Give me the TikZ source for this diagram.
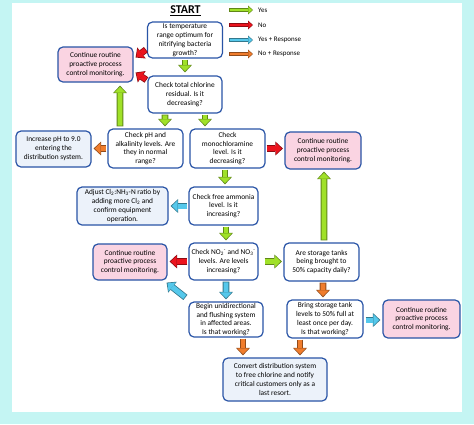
\documentclass[tikz,border=0pt]{standalone}
\usepackage{fontspec}
\setmainfont{Carlito}
\usetikzlibrary{arrows.meta,calc}
\definecolor{bg}{RGB}{196,245,243}
\definecolor{bdr}{RGB}{41,84,166}
\definecolor{pinkf}{RGB}{250,212,226}
\definecolor{actf}{RGB}{236,242,250}
\definecolor{agreen}{RGB}{160,225,40}
\definecolor{ared}{RGB}{235,20,30}
\definecolor{ablue}{RGB}{85,200,235}
\definecolor{aorange}{RGB}{240,125,45}
\tikzset{
  box/.style={draw=bdr, line width=1.2pt, rounded corners=5pt, fill=white,
    align=center, inner sep=1pt, font=\fontsize{7.4}{8.9}\selectfont},
  pinkbox/.style={box, fill=pinkf},
  actbox/.style={box, fill=actf},
  sz/.style 2 args={minimum width=#1bp, minimum height=#2bp},
  legtext/.style={anchor=west, inner sep=0pt, font=\fontsize{7}{8}\selectfont},
}
\newcommand\blockarrow[3]{%
  \draw[line width=6.6pt,#1!60!black,-{Triangle[width=14pt,length=7.5pt,line width=0pt]}] (#2) -- (#3);
  \draw[line width=5pt,#1,shorten <=0.8pt,shorten >=1.2pt,-{Triangle[width=11.5pt,length=5.8pt,line width=0pt]}] (#2) -- (#3);}
\newcommand\legarrow[3]{%
  \draw[line width=4pt,#1!60!black,-{Triangle[width=9pt,length=5pt,line width=0pt]}] (#2) -- (#3);
  \draw[line width=2.8pt,#1,shorten <=0.6pt,shorten >=0.9pt,-{Triangle[width=7pt,length=3.8pt,line width=0pt]}] (#2) -- (#3);}
\newcommand\pinktext{Continue routine\\proactive process\\control monitoring.}
\begin{document}
\begin{tikzpicture}[x=1bp,y=-1bp]
\useasboundingbox (0,0) rectangle (474,424);
\fill[bg] (0,0) rectangle (474,424);
\fill[white] (12,3) rectangle (462,412);

\node[font=\bfseries\fontsize{12}{13}\selectfont, inner sep=0pt] (start) at (185.5,11) {\underline{START}};

% legend
\coordinate (lg1) at (229,10);
\coordinate (lg2) at (229,25);
\coordinate (lg3) at (229,40);
\coordinate (lg4) at (229,54);
\node[legtext] (ly1) at (258,10) {Yes};
\node[legtext] (ly2) at (258,25) {No};
\node[legtext] (ly3) at (258,40) {Yes + Response};
\node[legtext] (ly4) at (258,54) {No + Response};
\legarrow{agreen}{lg1}{$(ly1.west)+(-5,0)$}
\legarrow{ared}{lg2}{$(ly2.west)+(-5,0)$}
\legarrow{ablue}{lg3}{$(ly3.west)+(-5,0)$}
\legarrow{aorange}{lg4}{$(ly4.west)+(-5,0)$}

% boxes
\node[box, sz={75}{36}] (q1) at (185,40) {Is temperature\\range optimum for\\nitrifying bacteria\\growth?};
\node[pinkbox, sz={75}{35}] (pA) at (95.5,64.5) {\pinktext};
\node[box, sz={74}{37}] (q2) at (185,94.5) {Check total chlorine\\residual. Is it\\decreasing?};
\node[box, sz={75}{39}] (q3) at (145.5,148.5) {Check pH and\\alkalinity levels. Are\\they in normal\\range?};
\node[box, sz={75}{39}] (q4) at (227.5,148.5) {Check\\monochloramine\\level. Is it\\decreasing?};
\node[actbox, sz={75}{36}] (a5) at (53.5,149) {Increase pH to 9.0\\entering the\\distribution system.};
\node[pinkbox, sz={76}{37}] (pB) at (323,150.5) {\pinktext};
\node[box, sz={69}{38}] (q6) at (223.5,206) {Check free ammonia\\level. Is it\\increasing?};
\node[actbox, sz={91}{38}] (a7) at (122.5,206) {Adjust Cl\textsubscript{2}:NH\textsubscript{3}-N ratio by\\adding more Cl\textsubscript{2} and\\confirm equipment\\operation.};
\node[box, sz={69}{37}] (q8) at (223.5,261.5) {Check NO\textsubscript{2}\textsuperscript{-} and NO\textsubscript{3}\textsuperscript{-}\\levels. Are levels\\increasing?};
\node[pinkbox, sz={74}{36}] (pC) at (130,262) {\pinktext};
\node[box, sz={75}{38}] (q9) at (321.5,262) {Are storage tanks\\being brought to\\50\% capacity daily?};
\node[box, sz={74}{35}] (q10) at (226,319.5) {Begin unidirectional\\and flushing system\\in affected areas.\\Is that working?};
\node[box, sz={76}{38}] (q11) at (325,319) {Bring storage tank\\levels to 50\% full at\\least once per day.\\Is that working?};
\node[pinkbox, sz={77}{38}] (pD) at (421.5,319) {\pinktext};
\node[actbox, sz={104}{43}] (a12) at (275,379.5) {Convert distribution system\\to free chlorine and notify\\critical customers only as a\\last resort.};

% arrows
\blockarrow{agreen}{$(q1.south)+(0,1)$}{$(q2.north)+(0,-3)$}
\blockarrow{ared}{$(q1.south west)+(-1,-9)$}{$(pA.east)+(2,-7)$}
\blockarrow{ared}{$(q2.west)+(-1,-14.5)$}{$(pA.east)+(2,8)$}
\blockarrow{agreen}{$(q2.south)+(-20,1)$}{$(q3.north)+(19.5,-2)$}
\blockarrow{agreen}{$(q2.south)+(20,1)$}{$(q4.north)+(-22.5,-2)$}
\blockarrow{agreen}{$(q3.north)+(-25.5,-2)$}{$(pA.south)+(24.5,3)$}
\blockarrow{aorange}{$(q3.west)+(-1,0)$}{$(q3.west -| a5.east)+(2,0)$}
\blockarrow{ared}{$(q4.east)+(1,0)$}{$(q4.east -| pB.west)+(-1.5,0)$}
\blockarrow{agreen}{$(q6.north |- q4.south)+(1.5,1)$}{$(q6.north)+(1.5,-2)$}
\blockarrow{ablue}{$(q6.west)+(-1,0)$}{$(a7.east)+(2,0)$}
\blockarrow{agreen}{$(q6.south)+(2.5,1)$}{$(q8.north)+(2.5,-2)$}
\blockarrow{ared}{$(q8.west)+(-1,0)$}{$(q8.west -| pC.east)+(2,0)$}
\blockarrow{agreen}{$(q8.east)+(6,0)$}{$(q8.east -| q9.west)+(-1.5,0)$}
\blockarrow{agreen}{$(q9.north)+(2.5,-2)$}{$(pB.south)+(1,2)$}
\blockarrow{ablue}{$(q8.south)+(2.5,1)$}{$(q10.north)+(0,-2)$}
\blockarrow{ablue}{$(q10.north west)+(-3,-4)$}{$(pC.south east)+(-1,2)$}
\blockarrow{aorange}{$(q9.south)+(1.5,1)$}{$(q11.north)+(-2,-2)$}
\blockarrow{ablue}{$(q11.east)+(2,1)$}{$(q11.east -| pD.west)+(-2,1)$}
\blockarrow{aorange}{$(q10.south)+(17,1)$}{$(a12.north)+(-32,-2)$}
\blockarrow{aorange}{$(q11.south)+(-25,1)$}{$(a12.north)+(25,-2)$}
\end{tikzpicture}
\end{document}
